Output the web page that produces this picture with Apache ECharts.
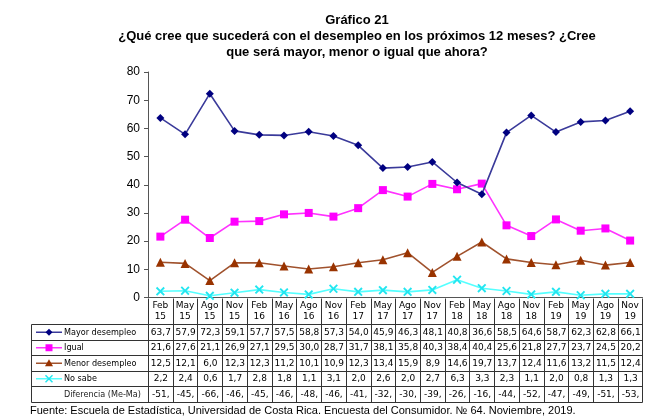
<!DOCTYPE html>
<html><head><meta charset="utf-8">
<script src="https://cdn.jsdelivr.net/npm/echarts@6/dist/echarts.min.js"></script>
<style>html,body{margin:0;padding:0;background:#fff}#c{width:661px;height:420px}</style>
</head><body><div id="c"></div>
<script>
const categories = ['Feb 15','May 15','Ago 15','Nov 15','Feb 16','May 16','Ago 16','Nov 16','Feb 17','May 17','Ago 17','Nov 17','Feb 18','May 18','Ago 18','Nov 18','Feb 19','May 19','Ago 19','Nov 19'];
const mayor = [63.7,57.9,72.3,59.1,57.7,57.5,58.8,57.3,54.0,45.9,46.3,48.1,40.8,36.6,58.5,64.6,58.7,62.3,62.8,66.1];
const igual = [21.6,27.6,21.1,26.9,27.1,29.5,30.0,28.7,31.7,38.1,35.8,40.3,38.4,40.4,25.6,21.8,27.7,23.7,24.5,20.2];
const menor = [12.5,12.1,6.0,12.3,12.3,11.2,10.1,10.9,12.3,13.4,15.9,8.9,14.6,19.7,13.7,12.4,11.6,13.2,11.5,12.4];
const noSabe = [2.2,2.4,0.6,1.7,2.8,1.8,1.1,3.1,2.0,2.6,2.0,2.7,6.3,3.3,2.3,1.1,2.0,0.8,1.3,1.3];
const diferencia = [-51,-45,-66,-46,-45,-46,-48,-46,-41,-32,-30,-39,-26,-16,-44,-52,-47,-49,-51,-53];
const yTicks = [0,10,20,30,40,50,60,70,80];
const seriesNames = ['Mayor desempleo','Igual','Menor desempleo','No sabe'];
const diffName = 'Diferencia (Me-Ma)';
const titleLines = ['Gráfico 21','¿Qué cree que sucederá con el desempleo en los próximos 12 meses? ¿Cree','que será mayor, menor o igual que ahora?'];
const fuente = 'Fuente: Escuela de Estadística, Universidad de Costa Rica. Encuesta del Consumidor. № 64. Noviembre, 2019.';

const X_PATH = 'path://M0,1.5L1.5,0L5,3.5L8.5,0L10,1.5L6.5,5L10,8.5L8.5,10L5,6.5L1.5,10L0,8.5L3.5,5Z';
const styles = [
  {line:'#3a3a9a', sym:'#000080', symbol:'diamond', size:8},
  {line:'#ff33ff', sym:'#ff00ff', symbol:'rect', size:8},
  {line:'#a0522d', sym:'#993300', symbol:'triangle', size:9},
  {line:'#55ffff', sym:'#22e6f0', symbol:X_PATH, size:9}
];
const dataSets = [mayor, igual, menor, noSabe];
const fmt = v => v.toFixed(1).replace('.', ',');
const LABEL_FONT = '9px "DejaVu Sans Condensed", "DejaVu Sans"';

const chart = echarts.init(document.getElementById('c'));
const GRID = {left:148, right:18.5, top:72, bottom:122.5};
chart.setOption({
  animation:false,
  title:{text:titleLines.join('\n'), left:352, top:7, textAlign:'center',
    textStyle:{fontFamily:'Liberation Sans', fontWeight:'bold', fontSize:13, lineHeight:16, color:'#000'}},
  grid:GRID,
  xAxis:{type:'category', data:categories, boundaryGap:true,
    axisLine:{lineStyle:{color:'#555', width:1}}, axisTick:{show:false},
    axisLabel:{interval:0, margin:3, fontFamily:'DejaVu Sans', fontSize:9, lineHeight:11, color:'#000',
      formatter:v=>v.replace(' ','\n')}},
  yAxis:{type:'value', min:yTicks[0], max:yTicks[yTicks.length-1], interval:yTicks[1]-yTicks[0],
    axisLine:{show:true, lineStyle:{color:'#555', width:1}},
    axisTick:{show:true, length:4, lineStyle:{color:'#555'}},
    splitLine:{show:false},
    axisLabel:{margin:8, fontFamily:'Liberation Sans', fontSize:12, color:'#000'}},
  series:dataSets.map((d,i)=>({
    name:seriesNames[i], type:'line', data:d, symbol:styles[i].symbol, symbolSize:styles[i].size,
    lineStyle:{color:styles[i].line, width:1.6}, itemStyle:{color:styles[i].sym}, z:10-i
  }))
});

// Build data table under the chart, aligned with the category axis
const x0 = chart.convertToPixel({xAxisIndex:0}, 0);
const x1 = chart.convertToPixel({xAxisIndex:0}, 1);
const colW = x1 - x0;
const tableLeft = GRID.left;
const tableRight = x0 - colW/2 + colW*categories.length;
const axisY = chart.convertToPixel({yAxisIndex:0}, 0);
const labelLeft = 31;
const rowTop = 324;
const rowH = 15.5;
const nRows = 5;
const g = [];
const L = (xa,ya,xb,yb)=>({type:'line', shape:{x1:xa,y1:ya,x2:xb,y2:yb}, style:{stroke:'#333', lineWidth:1}, silent:true});
const r = v=>Math.round(v)+0.5;
for (let k=0;k<=nRows;k++){ const y=r(rowTop+k*rowH); g.push(L(labelLeft+0.5,y,r(tableRight),y)); }
for (let i=0;i<=categories.length;i++){ const x=r(tableLeft+i*colW); g.push(L(x,r(axisY),x,r(rowTop+nRows*rowH))); }
g.push(L(labelLeft+0.5,r(rowTop),labelLeft+0.5,r(rowTop+nRows*rowH)));
const rowsData = [mayor.map(fmt), igual.map(fmt), menor.map(fmt), noSabe.map(fmt), diferencia.map(v=>v+',')];
rowsData.forEach((row,k)=>{
  const cy = rowTop + k*rowH + rowH/2 + 0.5;
  row.forEach((t,i)=>{
    g.push({type:'text', x:tableLeft+(i+0.5)*colW+0.5, y:cy, silent:true,
      style:{text:t, fill:'#000', font:'9px "DejaVu Sans"', align:'center', verticalAlign:'middle'}});
  });
});
const keyX1 = 36, keyX2 = 62, keyC = 49;
function symShape(i, cx, cy){
  const c = styles[i].sym;
  if (i===0) return {type:'polygon', shape:{points:[[cx,cy-3.5],[cx+3.5,cy],[cx,cy+3.5],[cx-3.5,cy]]}, style:{fill:c}};
  if (i===1) return {type:'rect', shape:{x:cx-3.5,y:cy-3.5,width:7,height:7}, style:{fill:c}};
  if (i===2) return {type:'polygon', shape:{points:[[cx,cy-4],[cx+4,cy+3],[cx-4,cy+3]]}, style:{fill:c}};
  return {type:'group', children:[
    {type:'line', shape:{x1:cx-3.5,y1:cy-3.5,x2:cx+3.5,y2:cy+3.5}, style:{stroke:c,lineWidth:1.5}},
    {type:'line', shape:{x1:cx+3.5,y1:cy-3.5,x2:cx-3.5,y2:cy+3.5}, style:{stroke:c,lineWidth:1.5}}]};
}
seriesNames.concat([diffName]).forEach((name,k)=>{
  const cy = rowTop + k*rowH + rowH/2 + 0.5;
  if (k<4){
    g.push({type:'line', shape:{x1:keyX1,y1:cy,x2:keyX2,y2:cy}, style:{stroke:styles[k].line, lineWidth:1.5}, silent:true});
    g.push(symShape(k, keyC, cy));
  }
  g.push({type:'text', x:64, y:cy, silent:true,
    style:{text:name, fill:k<4?'#000':'#222', font:LABEL_FONT, align:'left', verticalAlign:'middle'}});
});
g.push({type:'text', x:30, y:411, silent:true,
  style:{text:fuente, fill:'#000', font:'11px "Liberation Sans"', align:'left', verticalAlign:'middle'}});
chart.setOption({graphic:g});
</script></body></html>
